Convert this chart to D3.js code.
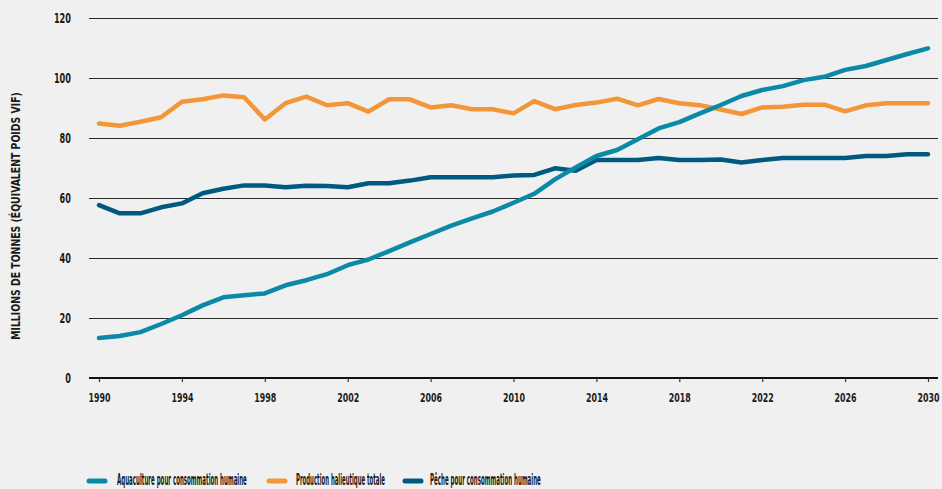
<!DOCTYPE html>
<html>
<head>
<meta charset="utf-8">
<script src="https://cdn.jsdelivr.net/npm/d3@7"></script>
<style>
  body { margin: 0; background: #f0f0f0; }
  svg { display: block; }
  text { font-family: "DejaVu Sans Condensed", "Liberation Sans Narrow", sans-serif; }
</style>
</head>
<body>
<svg id="chart"></svg>
<script>
const years = d3.range(1990, 2031)
const aquaculture = [13.3, 14, 15.3, 18, 20.9, 24.2, 26.9, 27.6, 28.2, 30.9,
  32.6, 34.6, 37.6, 39.5, 42.3, 45.2, 48, 50.8, 53.2, 55.5,
  58.4, 61.4, 66.2, 70.2, 74, 76, 79.6, 83.2, 85.3, 88.2,
  91, 94, 96, 97.3, 99.3, 100.4, 102.7, 104, 106, 108, 109.9]
const production = [84.8, 84.1, 85.4, 86.9, 92.1, 92.9, 94.2, 93.6, 86.2, 91.6,
  93.8, 90.9, 91.6, 88.8, 92.9, 92.9, 90.2, 90.9, 89.6, 89.6,
  88.2, 92.3, 89.6, 91, 91.8, 93.1, 90.9, 93, 91.6, 90.9,
  89.5, 88, 90.2, 90.4, 91.1, 91.1, 88.9, 90.9, 91.6, 91.6, 91.6]
const peche = [57.6, 54.9, 54.9, 56.9, 58.2, 61.6, 63.1, 64.2, 64.2, 63.6,
  64.1, 64, 63.6, 64.9, 64.9, 65.8, 66.9, 66.9, 66.9, 66.9,
  67.5, 67.7, 69.9, 69.1, 72.7, 72.7, 72.7, 73.3, 72.7, 72.7,
  72.8, 71.8, 72.7, 73.3, 73.3, 73.3, 73.3, 74, 74, 74.6, 74.6]
const yTicks = [0, 20, 40, 60, 80, 100, 120]
const xTicks = d3.range(1990, 2031, 4)
const seriesNames = ['Aquaculture pour consommation humaine', 'Production halieutique totale', 'Pêche pour consommation humaine']
const seriesColors = ['#0a8aa6', '#f39637', '#005a80']

const WIDTH = 942
const HEIGHT = 489

const svg = d3.select('#chart').attr('width', WIDTH).attr('height', HEIGHT)

const x = d3.scaleLinear().domain([1990, 2030]).range([99, 928])
const y = d3.scaleLinear().domain([0, 120]).range([378, 18])

// squeeze a text to a given width (condensed look), keeping its anchor point
function squeeze(sel, width, px, py, anchor) {
  sel.each(function() {
    const node = this
    const w = node.getComputedTextLength()
    const s = Math.min(1, width / w)
    d3.select(node).attr('x', null).attr('y', null)
      .attr('text-anchor', anchor)
      .attr('transform', `translate(${px},${py}) scale(${s},1)`)
  })
}

// gridlines
svg.append('g')
  .selectAll('line')
  .data(yTicks.filter(d => d > 0))
  .enter().append('line')
    .attr('x1', 89).attr('x2', 938)
    .attr('y1', d => Math.round(y(d)) + 0.5)
    .attr('y2', d => Math.round(y(d)) + 0.5)
    .attr('stroke', '#2a2a2a')
    .attr('stroke-width', 1)

// y labels
svg.append('g')
  .selectAll('text')
  .data(yTicks)
  .enter().append('text')
    .attr('font-size', 14)
    .attr('font-weight', 'bold')
    .attr('fill', '#1a1a1a')
    .text(d => d)
    .each(function(d) {
      squeeze(d3.select(this), String(d).length * 5.7, 71, y(d) + 5, 'end')
    })

// x axis
const xAxis = svg.append('g')
  .attr('transform', `translate(0,${y(0)})`)
  .call(d3.axisBottom(x).tickValues(xTicks).tickFormat(d3.format('d')).tickSize(4).tickPadding(9))
xAxis.select('.domain').attr('d', 'M89,0H938').attr('stroke', '#111').attr('stroke-width', 2)
xAxis.selectAll('.tick line').attr('stroke', '#333').attr('stroke-width', 1.2)
xAxis.selectAll('.tick text')
  .attr('font-family', '"DejaVu Sans Condensed", sans-serif')
  .attr('font-size', 13)
  .attr('font-weight', 'bold')
  .attr('fill', '#1a1a1a')
  .attr('dy', null)
  .each(function() { squeeze(d3.select(this), 22, 0, 24, 'middle') })

// y title
svg.append('text')
  .attr('font-size', 12)
  .attr('font-weight', 'bold')
  .attr('fill', '#1a1a1a')
  .text('MILLIONS DE TONNES (ÉQUIVALENT POIDS VIF)')
  .each(function() {
    const w = this.getComputedTextLength()
    d3.select(this).attr('text-anchor', 'middle')
      .attr('transform', `translate(20,216) rotate(-90) scale(${248 / w},1)`)
  })

// lines
const line = d3.line()
  .x((d, i) => x(years[i]))
  .y(d => y(d))

const allSeries = [aquaculture, production, peche]
const drawOrder = [1, 2, 0]
for (const k of drawOrder) {
  svg.append('path')
    .datum(allSeries[k])
    .attr('fill', 'none')
    .attr('stroke', seriesColors[k])
    .attr('stroke-width', 4.5)
    .attr('stroke-linejoin', 'round')
    .attr('stroke-linecap', 'round')
    .attr('d', line)
}

// legend
const legendX = [88, 268, 404]
const legendTextX = [117, 296, 430]
const legendTextLen = [130, 89, 111]
const legend = svg.append('g')
  .selectAll('g')
  .data(seriesNames)
  .enter().append('g')
legend.append('line')
  .attr('x1', (d, i) => legendX[i] + 1).attr('x2', (d, i) => legendX[i] + 17)
  .attr('y1', 481).attr('y2', 481)
  .attr('stroke', (d, i) => seriesColors[i])
  .attr('stroke-width', 5)
  .attr('stroke-linecap', 'round')
legend.append('text')
  .attr('font-size', 15)
  .attr('font-weight', 'bold')
  .attr('fill', '#1a1a1a')
  .text(d => d)
  .each(function(d, i) {
    squeeze(d3.select(this), legendTextLen[i], legendTextX[i], 485, 'start')
  })
</script>
</body>
</html>
